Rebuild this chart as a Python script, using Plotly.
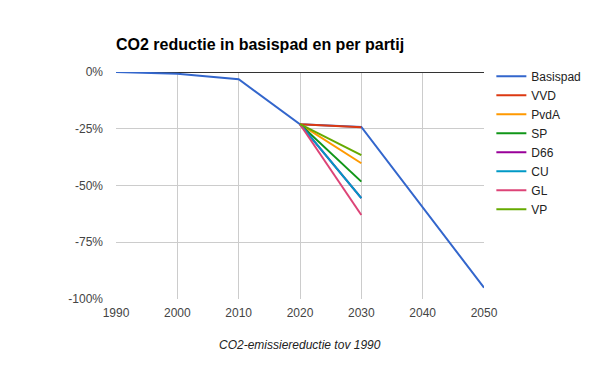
import plotly.graph_objects as go

years = [1990, 2000, 2010, 2020, 2030, 2040, 2050]
basispad = [0, -0.8, -3.2, -23.0, -24.2, -59.6, -95.0]

party_years = [2020, 2030]
parties = ["VVD", "PvdA", "SP", "D66", "CU", "GL", "VP"]
party_2020 = [-23.0, -23.0, -23.0, -23.0, -23.0, -23.0, -23.0]
party_2030 = [-24.3, -40.2, -48.3, -55.6, -55.6, -63.0, -36.6]

colors = ["#3366cc", "#dc3912", "#ff9900", "#109618", "#990099", "#0099c6", "#dd4477", "#66aa00"]

y_ticks = [0, -25, -50, -75, -100]
y_labels = ["0%", "-25%", "-50%", "-75%", "-100%"]
x_ticks = [1990, 2000, 2010, 2020, 2030, 2040, 2050]

fig = go.Figure()
fig.add_trace(go.Scatter(x=years, y=basispad, mode="lines", name="Basispad",
                         line=dict(color=colors[0], width=2)))
for i, p in enumerate(parties):
    fig.add_trace(go.Scatter(x=party_years, y=[party_2020[i], party_2030[i]], mode="lines",
                             name=p, line=dict(color=colors[i + 1], width=2)))

fig.update_layout(
    width=600, height=371,
    margin=dict(l=116, r=116, t=72, b=72),
    paper_bgcolor="white", plot_bgcolor="white",
    font=dict(family="Liberation Sans, Arial, sans-serif", size=12, color="#222"),
    title=dict(text="<b>CO2 reductie in basispad en per partij</b>",
               x=116 / 600, xref="container", xanchor="left",
               y=1 - 44 / 371, yref="container", yanchor="middle",
               font=dict(size=16, color="#000")),
    legend=dict(x=1.02, y=1.045, xanchor="left", yanchor="top",
                font=dict(size=12, color="#222"), tracegroupgap=0,
                itemwidth=30),
    showlegend=True,
    annotations=[dict(text="<i>CO2-emissiereductie tov 1990</i>", xref="paper", yref="paper",
                      x=0.5, y=-46 / 227, xanchor="center", yanchor="middle",
                      showarrow=False, font=dict(size=12, color="#222"))],
)
fig.update_xaxes(range=[1990, 2050], tickvals=x_ticks, showgrid=True, gridcolor="#cccccc",
                 gridwidth=1, zeroline=False, showline=False, ticklabelstandoff=5,
                 tickfont=dict(color="#444", size=12), fixedrange=True)
fig.update_yaxes(range=[-100, 0], tickvals=y_ticks, ticktext=y_labels, showgrid=True,
                 gridcolor="#cccccc", gridwidth=1, zeroline=True, zerolinecolor="#333333",
                 zerolinewidth=1, showline=False, ticklabelstandoff=12,
                 tickfont=dict(color="#444", size=12), fixedrange=True)

fig.write_html("out.html", config={"displayModeBar": False},
               post_script="document.body.style.margin='0';")
